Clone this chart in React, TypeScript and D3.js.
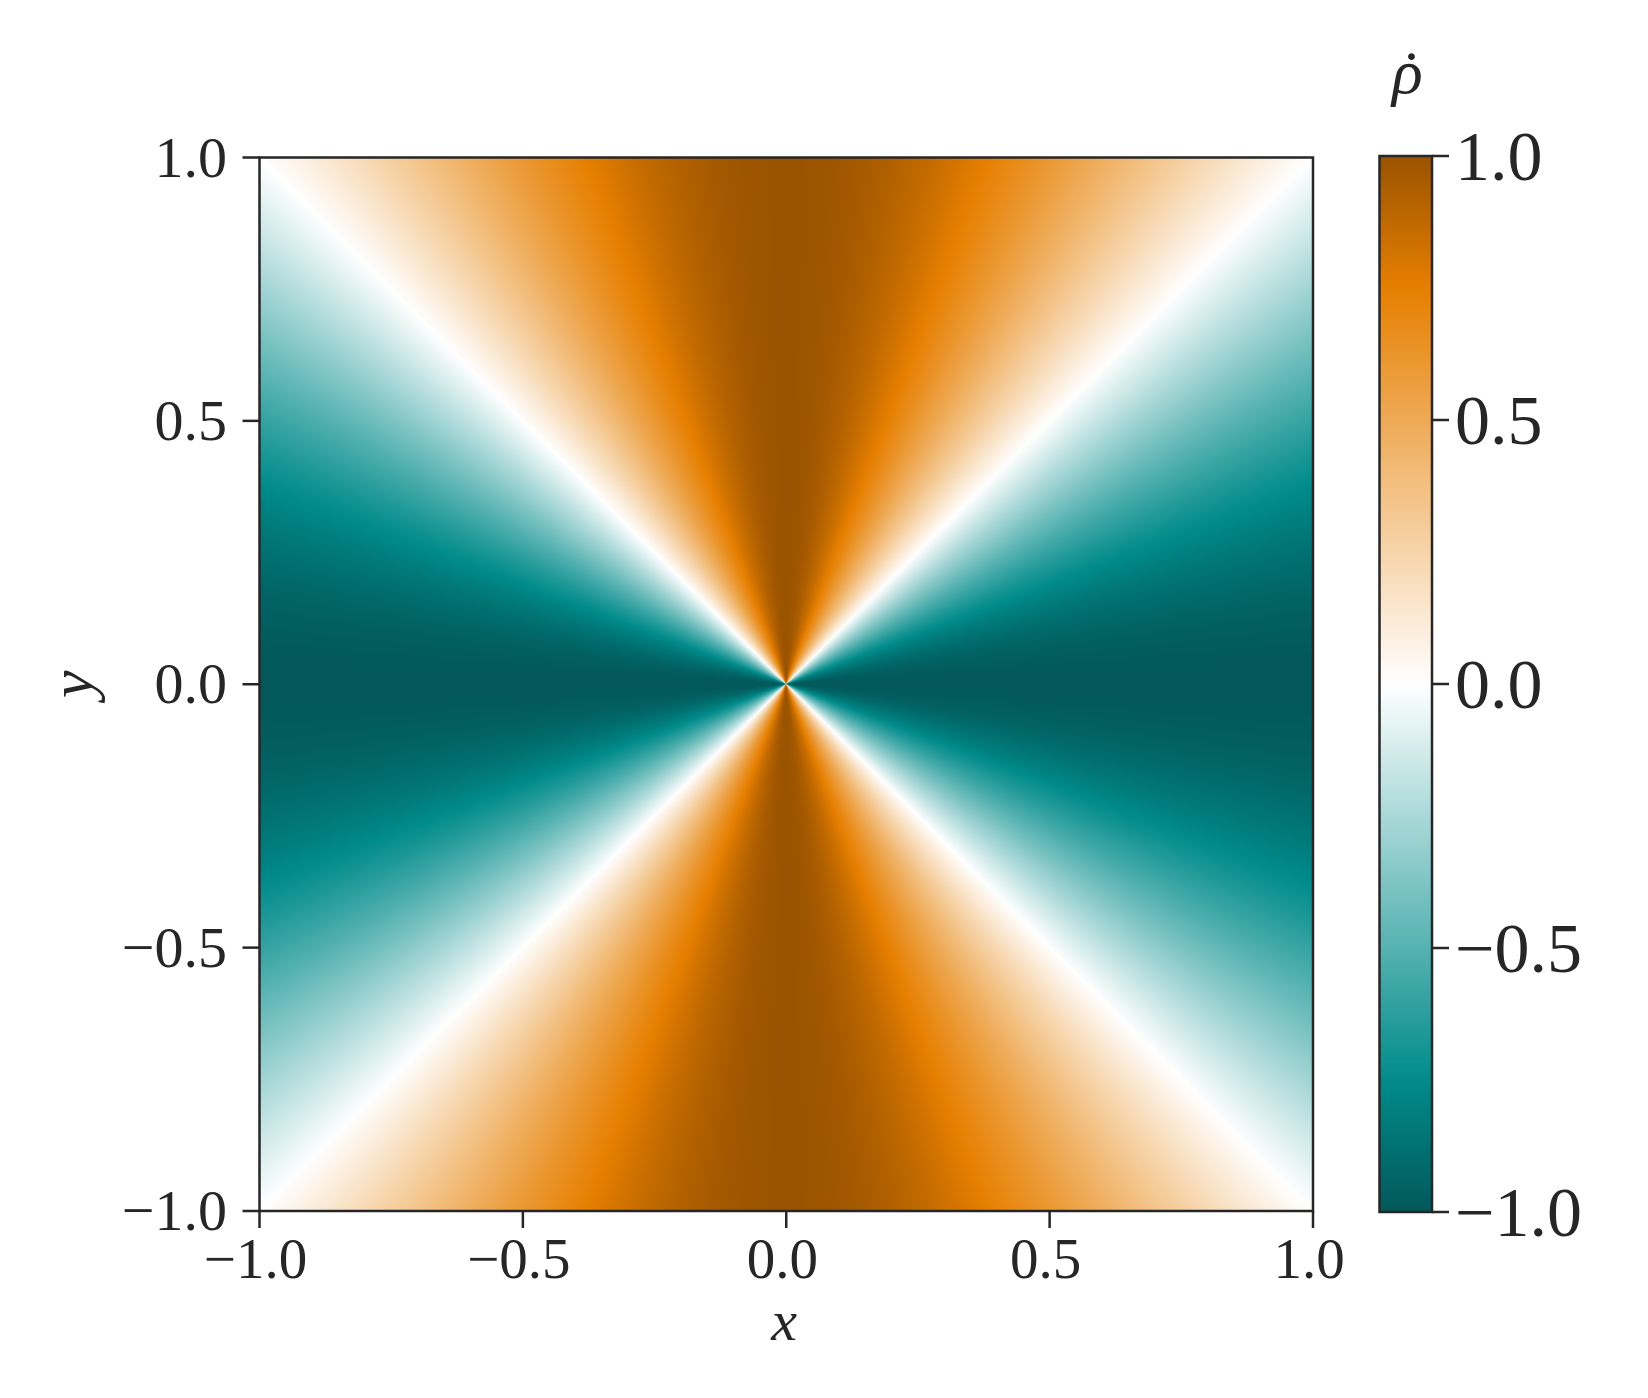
import React, { useMemo } from 'react';
import * as d3 from 'd3';

// axis ticks
const X_TICKS = [-1, -0.5, 0, 0.5, 1];
const Y_TICKS = [-1, -0.5, 0, 0.5, 1];
const CBAR_TICKS = [-1, -0.5, 0, 0.5, 1];

// colormap stops
const CMAP_VALUES = [-1, -0.75, 0, 0.75, 1];
const CMAP_COLORS = ['#02585A', '#008B8A', '#FFFFFF', '#E67F00', '#9A5300'];

const X_DOMAIN = [-1, 1];
const Y_DOMAIN = [-1, 1];

// plotted field: rho-dot over the plane
const rhoDot = (x: number, y: number) => {
  const r2 = x * x + y * y;
  return r2 === 0 ? 0 : (y * y - x * x) / r2;
};

const W = 1648;
const H = 1398;
const plot = { left: 259.5, right: 1313, top: 157.5, bottom: 1211 };
const cbar = { left: 1379.5, right: 1432, top: 156, bottom: 1212 };
const ink = '#262626';
const font = '"Liberation Serif", "DejaVu Serif", serif';

export default function App() {
  const x = d3.scaleLinear().domain(X_DOMAIN).range([plot.left, plot.right]);
  const y = d3.scaleLinear().domain(Y_DOMAIN).range([plot.bottom, plot.top]);
  const cy = d3.scaleLinear().domain([-1, 1]).range([cbar.bottom, cbar.top]);
  const color = d3.scaleLinear<string>().domain(CMAP_VALUES).range(CMAP_COLORS).clamp(true);
  const fmt = d3.format('.1f');

  const imgUrl = useMemo(() => {
    const pw = Math.round(plot.right - plot.left);
    const ph = Math.round(plot.bottom - plot.top);
    const canvas = document.createElement('canvas');
    canvas.width = pw;
    canvas.height = ph;
    const ctx = canvas.getContext('2d');
    if (!ctx) return '';
    // lookup table for the colormap
    const N = 2048;
    const lut = d3.range(N).map(k => d3.rgb(color(-1 + (2 * k) / (N - 1))));
    const im = ctx.createImageData(pw, ph);
    for (let j = 0; j < ph; j++) {
      const yv = y.invert(plot.top + j + 0.5);
      for (let i = 0; i < pw; i++) {
        const xv = x.invert(plot.left + i + 0.5);
        const v = rhoDot(xv, yv);
        const c = lut[Math.round(((v + 1) / 2) * (N - 1))];
        const p = (j * pw + i) * 4;
        im.data[p] = c.r;
        im.data[p + 1] = c.g;
        im.data[p + 2] = c.b;
        im.data[p + 3] = 255;
      }
    }
    ctx.putImageData(im, 0, 0);
    return canvas.toDataURL();
  }, []);

  const gradStops = d3.range(0, 1.0001, 0.02);

  return (
    <svg
      width={W}
      height={H}
      style={{ position: 'absolute', left: 0, top: 0, display: 'block', background: '#fff' }}
    >
      <defs>
        <linearGradient id="cbarGrad" x1="0" y1="1" x2="0" y2="0">
          {gradStops.map(t => (
            <stop key={t} offset={t} stopColor={color(-1 + 2 * t)} />
          ))}
        </linearGradient>
      </defs>

      {/* heat map */}
      <image
        href={imgUrl}
        x={plot.left}
        y={plot.top}
        width={plot.right - plot.left}
        height={plot.bottom - plot.top}
        preserveAspectRatio="none"
      />
      <rect
        x={plot.left}
        y={plot.top}
        width={plot.right - plot.left}
        height={plot.bottom - plot.top}
        fill="none"
        stroke={ink}
        strokeWidth={2.5}
      />

      {/* x axis */}
      {X_TICKS.map(t => (
        <g key={'x' + t}>
          <line x1={x(t)} x2={x(t)} y1={plot.bottom} y2={plot.bottom + 17} stroke={ink} strokeWidth={2.5} />
          <text x={x(t) - 4} y={1278} textAnchor="middle" fontFamily={font} fontSize={57} fill={ink}>
            {fmt(t)}
          </text>
        </g>
      ))}
      {/* y axis */}
      {Y_TICKS.map(t => (
        <g key={'y' + t}>
          <line x1={plot.left - 17} x2={plot.left} y1={y(t)} y2={y(t)} stroke={ink} strokeWidth={2.5} />
          <text x={227} y={y(t) + 19} textAnchor="end" fontFamily={font} fontSize={58} fill={ink}>
            {fmt(t)}
          </text>
        </g>
      ))}
      <text x={784} y={1340} textAnchor="middle" fontFamily={font} fontStyle="italic" fontSize={58} fill={ink}>
        x
      </text>
      <text
        transform={`translate(92,${(plot.top + plot.bottom) / 2}) rotate(-90)`}
        textAnchor="middle"
        fontFamily={font}
        fontStyle="italic"
        fontSize={62}
        fill={ink}
      >
        y
      </text>

      {/* colorbar */}
      <rect
        x={cbar.left}
        y={cbar.top}
        width={cbar.right - cbar.left}
        height={cbar.bottom - cbar.top}
        fill="url(#cbarGrad)"
        stroke={ink}
        strokeWidth={2.5}
      />
      {CBAR_TICKS.map(t => (
        <g key={'c' + t}>
          <line x1={cbar.right} x2={cbar.right + 17} y1={cy(t)} y2={cy(t)} stroke={ink} strokeWidth={2.5} />
          <text x={1455} y={cy(t) + 24} fontFamily={font} fontSize={70} fill={ink}>
            {fmt(t)}
          </text>
        </g>
      ))}
      <text x={1392} y={93} fontFamily={font} fontStyle="italic" fontSize={64} fill={ink}>
        ρ<tspan dx={-22} dy={2} fontStyle="normal">˙</tspan>
      </text>
    </svg>
  );
}
